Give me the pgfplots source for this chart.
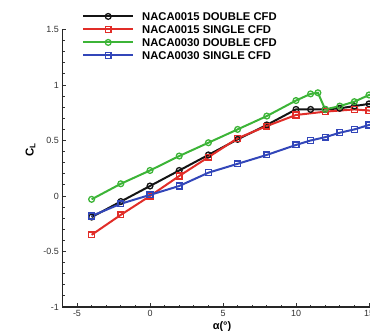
\documentclass[border=0pt]{standalone}
\usepackage{pgfplots}
\pgfplotsset{compat=1.18}
\usepackage{fontspec}
\setmainfont{Liberation Sans}
\definecolor{cblack}{RGB}{20,20,20}
\definecolor{cred}{RGB}{225,45,40}
\definecolor{cgreen}{RGB}{60,180,55}
\definecolor{cblue}{RGB}{50,70,185}
\begin{document}
\begin{tikzpicture}
\begin{axis}[
  at={(0,0)}, anchor=south west,
  scale only axis, width=321.2bp, height=277.5bp,
  xmin=-6, xmax=16, ymin=-1, ymax=1.5,
  axis lines=left, axis line style={-, line width=1.5bp, black!85},
  xtick={-5,0,5,10,15}, ytick={-1,-0.5,0,0.5,1,1.5},
  minor x tick num=4, minor y tick num=4,
  tick align=inside, major tick length=4bp, minor tick length=2.2bp,
  tick style={black!80, line width=0.9bp},
  /pgf/number format/assume math mode=true,
  tick label style={font=\fontsize{9}{10}\selectfont, text=black!80},
  xlabel={\textbf{α(°)}},
  xlabel style={at={(axis description cs:0.497,-0.070)}, anchor=center, font=\fontsize{11}{12}\selectfont},
  ylabel={\textbf{C\textsubscript{L}}},
  ylabel style={at={(axis description cs:-0.0996,0.566)}, anchor=center, font=\fontsize{11.5}{12}\selectfont},
  legend image code/.code={\draw[mark repeat=2, mark phase=2, #1] plot coordinates {(0bp,0bp) (25bp,0bp) (50bp,0bp)};},
  legend style={draw=none, fill=none, at={(axis description cs:0.061,1.066)}, anchor=north west,
    inner sep=0pt, font=\bfseries\fontsize{11.3}{12}\selectfont, row sep=2.9bp,
    nodes={inner sep=1pt, text height=8.1bp, text depth=0bp},
    /tikz/every odd column/.append style={column sep=7bp}},
  legend cell align=left,
  every axis plot/.append style={line width=2bp, mark size=2.9bp, mark options={solid, fill=none, line width=1.3bp}},
]
\addplot[cblack, mark=o] coordinates {
(-4,-0.19) (-2,-0.05) (0,0.09) (2,0.23) (4,0.37) (6,0.51) (8,0.64) (10,0.78) (11,0.78) (12,0.78) (13,0.79) (14,0.81) (15,0.83) (16,0.85)};
\addlegendentry{NACA0015 DOUBLE CFD}
\addplot[cred, mark=square] coordinates {
(-4,-0.35) (-2,-0.17) (0,0.0) (2,0.18) (4,0.35) (6,0.52) (8,0.63) (10,0.73) (12,0.76) (14,0.78) (15,0.77) (16,0.76)};
\addlegendentry{NACA0015 SINGLE CFD}
\addplot[cgreen, mark=o] coordinates {
(-4,-0.03) (-2,0.11) (0,0.23) (2,0.36) (4,0.48) (6,0.60) (8,0.72) (10,0.86) (11,0.92) (11.5,0.93) (12,0.78) (13,0.81) (14,0.85) (15,0.91) (16,0.96)};
\addlegendentry{NACA0030 DOUBLE CFD}
\addplot[cblue, mark=square] coordinates {
(-4,-0.18) (-2,-0.07) (0,0.01) (2,0.09) (4,0.21) (6,0.29) (8,0.37) (10,0.46) (11,0.50) (12,0.53) (13,0.57) (14,0.60) (15,0.64) (16,0.68)};
\addlegendentry{NACA0030 SINGLE CFD}
\end{axis}
\pgfresetboundingbox
\useasboundingbox (-62.4bp,-24bp) rectangle (307.6bp,307bp);
\end{tikzpicture}
\end{document}
